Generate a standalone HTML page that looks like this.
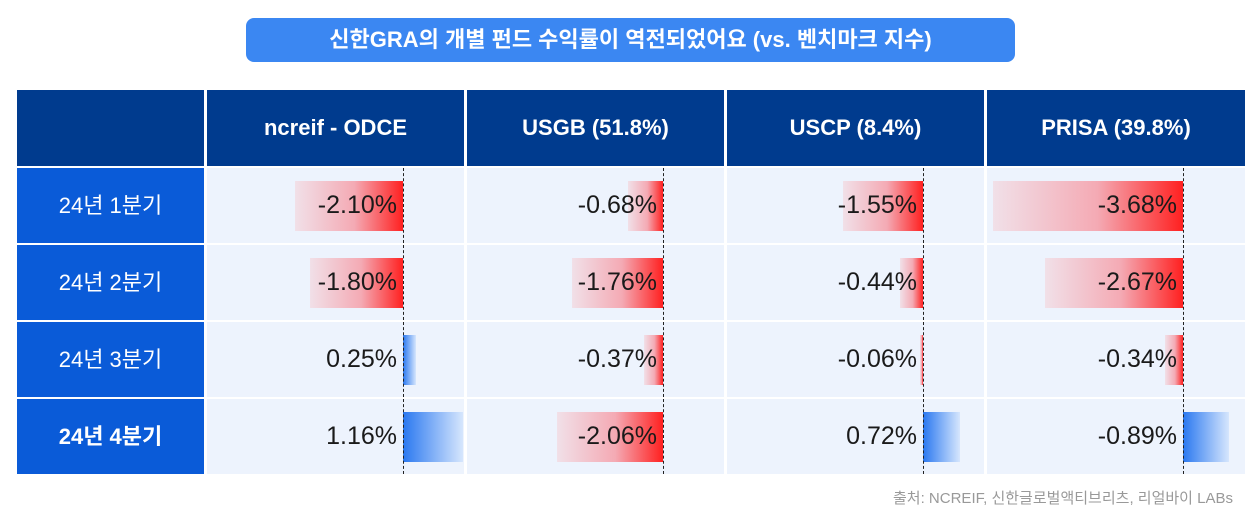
<!DOCTYPE html>
<html><head><meta charset="utf-8"><style>
body{margin:0;width:1260px;height:529px;background:#fff;font-family:"Liberation Sans","Noto Sans CJK KR",sans-serif;overflow:hidden;position:relative}
.abs{position:absolute}
#title{left:246px;top:18px;width:769px;height:44px;background:#3b87f2;border-radius:8px;color:#fff;font-size:22px;font-weight:bold;text-align:center;line-height:44px}
.hd{background:#003b8e;color:#fff;font-size:22px;font-weight:bold;text-align:center;line-height:76px}
.rh{background:#0a5bd8;color:#fff;font-size:22px;text-align:center;line-height:75px}
.cell{background:#edf3fd;overflow:hidden}
.lbl{position:absolute;font-size:25px;color:#1a1a1a;text-align:right;width:200px;line-height:75px;z-index:2}
.zero{position:absolute;top:0;height:75px;border-left:1.3px dashed #222;z-index:3}
#src{right:27px;top:487px;font-size:15px;color:#999}
</style></head><body>
<div id="title" class="abs">신한GRA의 개별 펀드 수익률이 역전되었어요 (vs. 벤치마크 지수)</div>
<div id="tbl"></div>
<div id="src" class="abs">출처: NCREIF, 신한글로벌액티브리츠, 리얼바이 LABs</div>
<script>
const columns=["ncreif - ODCE","USGB (51.8%)","USCP (8.4%)","PRISA (39.8%)"];
const quarters=["24년 1분기","24년 2분기","24년 3분기","24년 4분기"];
const ncreif=[-2.10,-1.80,0.25,1.16];
const usgb=[-0.68,-1.76,-0.37,-2.06];
const uscp=[-1.55,-0.44,-0.06,0.72];
const prisa=[-3.68,-2.67,-0.34,-0.89];
const prisaBar=[-3.68,-2.67,-0.34,0.89];
const series=[ncreif,usgb,uscp,prisa];
const barSeries=[ncreif,usgb,uscp,prisaBar];
const PX=51.5;
const colX=[207,467,727,987],colW=[257,257,257,258];
const rowY=[168,245,322,399];
const tbl=document.getElementById('tbl');
function mk(cls,x,y,w,h,txt){const d=document.createElement('div');d.className='abs '+cls;d.style.left=x+'px';d.style.top=y+'px';d.style.width=w+'px';d.style.height=h+'px';if(txt!=null)d.textContent=txt;tbl.appendChild(d);return d;}
const corner=mk('hd',17,90,187,76);


columns.forEach((c,i)=>{const h=mk('hd',colX[i],90,colW[i],76,c);

});
quarters.forEach((q,r)=>{
 const rh=mk('rh',17,rowY[r],187,75,q);
 
 
 if(r===3)rh.style.fontWeight='bold';
 series.forEach((s,c)=>{
  const cell=mk('cell',colX[c],rowY[r],colW[c],75);
  
  
  const z=196;
  const v=barSeries[c][r];const w=Math.abs(v)*PX;
  const b=document.createElement('div');
  
  
  b.style.cssText='position:absolute;top:13px;height:50px;width:'+w+'px;left:'+(v<0?z-w:z)+'px;background:'+(v<0?'linear-gradient(to right,#f1e0e8,#f4aab4 55%,#ff2020)':'linear-gradient(to right,#2a78f0,#d6e6fd)');
  cell.appendChild(b);
  const zl=document.createElement('div');zl.className='zero';zl.style.left=z+'px';
  
  
  cell.appendChild(zl);
  const l=document.createElement('div');l.className='lbl';l.style.left=(z-206)+'px';
  l.textContent=(s[r]).toFixed(2)+'%';
  
  
  cell.appendChild(l);
 });
});
</script>
</body></html>
